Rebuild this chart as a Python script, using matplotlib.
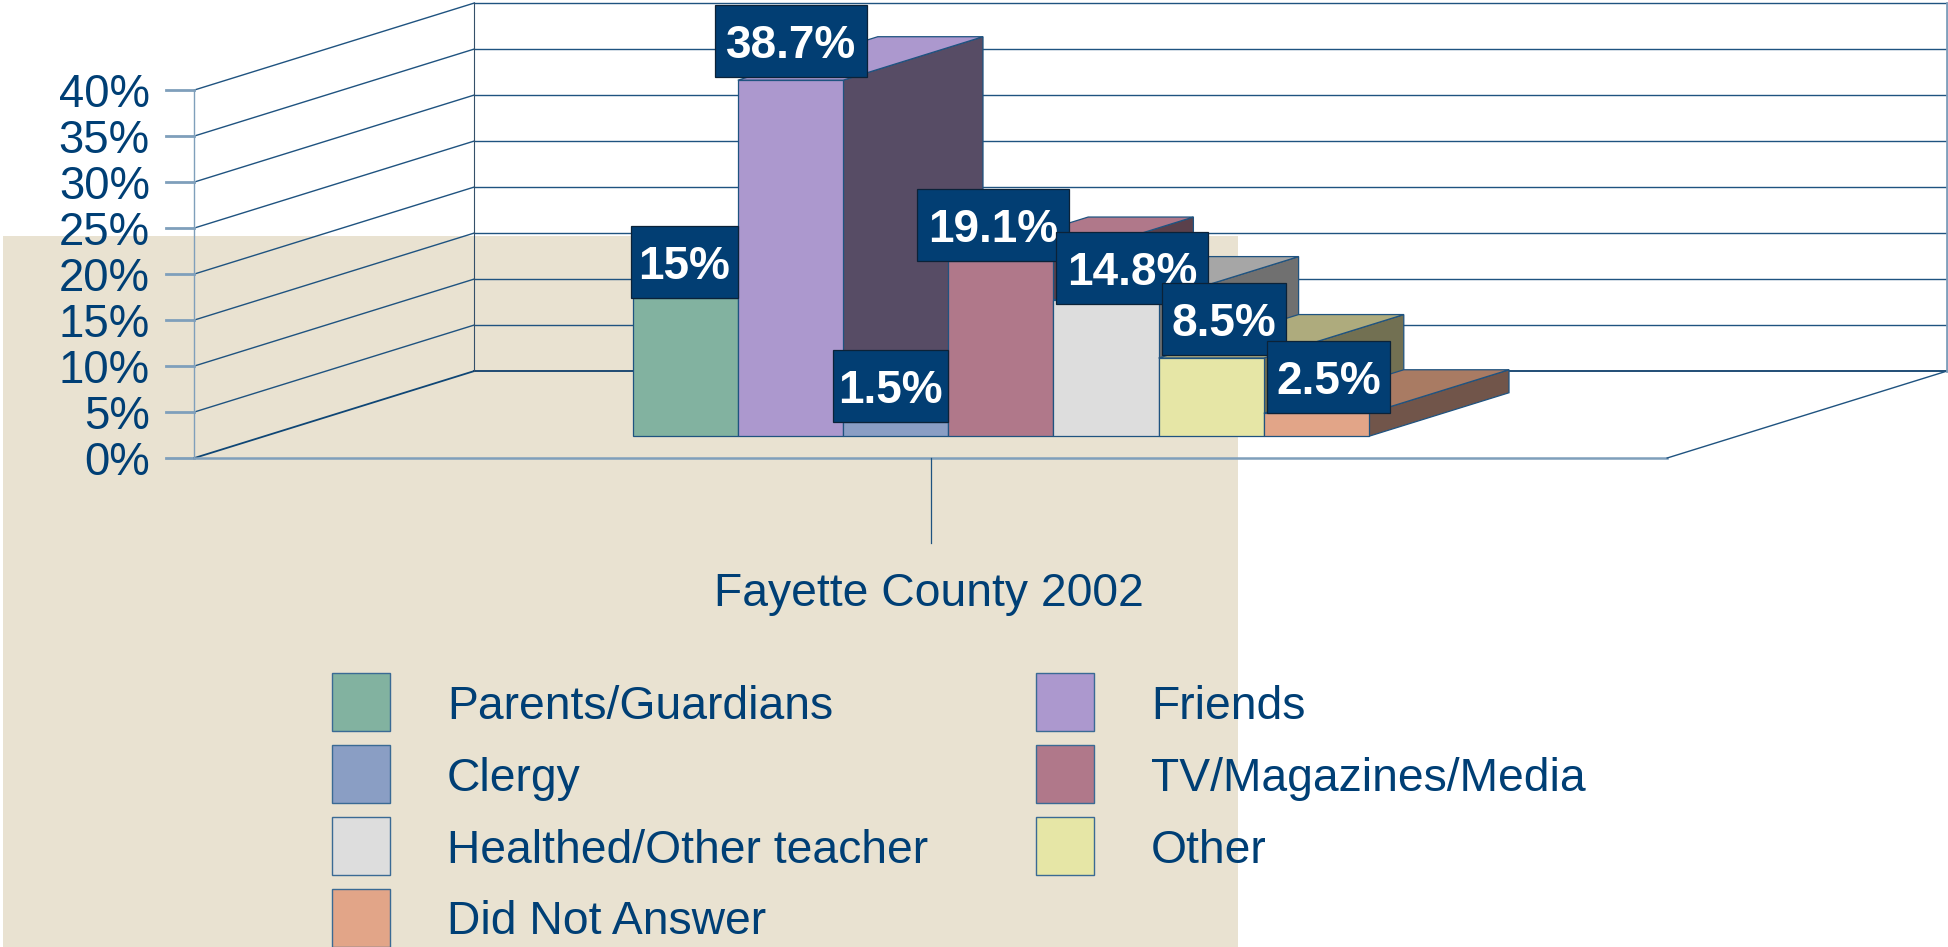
import matplotlib
matplotlib.use("Agg")
import matplotlib.pyplot as plt
from matplotlib.patches import Polygon, Rectangle
from matplotlib.transforms import Affine2D

plt.rcParams['font.family'] = ['Liberation Sans', 'DejaVu Sans']

# Data
categories = ["Parents/Guardians", "Friends", "Clergy", "TV/Magazines/Media",
              "Healthed/Other teacher", "Other", "Did Not Answer"]
values = [15, 38.7, 1.5, 19.1, 14.8, 8.5, 2.5]
value_labels = ["15%", "38.7%", "1.5%", "19.1%", "14.8%", "8.5%", "2.5%"]
y_ticks = [0, 5, 10, 15, 20, 25, 30, 35, 40]
y_tick_labels = ["0%", "5%", "10%", "15%", "20%", "25%", "30%", "35%", "40%"]
series_name = "Fayette County 2002"

# Colours of each bar
front_colors = ["#82B2A0", "#AC98CE", "#8A9EC4", "#B0788A", "#DDDDDD", "#E6E6A6", "#E2A588"]
top_colors = ["#6F9888", "#AC98CE", "#75869F", "#B0788A", "#A6A6A6", "#AEAB7D", "#A97B63"]
side_colors = ["#4C6A5E", "#574C65", "#4A5468", "#5A404B", "#707070", "#727052", "#71554A"]

# Label box: centre shift, width and bottom shift, in pixels from the bar
box_dx = [-1, 1, -5, -8, 26, 13, 12]
box_w = [107, 152, 115, 152, 152, 124, 123]
box_dy = [0, -3, 0, 0, 4, -3, 0]

TEXT = "#003F75"
BOX = "#023E73"
LINE = "#1F5380"
LIGHT = "#7F9FBB"
W, H = 1949, 947
UX, UY = 105.2, 9.2      # pixels for one bar width, for one percent
X0, Y0 = 562.6, 458      # pixel of category 0, of 0%
DX, DY = 280 / UX, 87 / UY   # full floor depth in data units
XL, XR = -3.5, 10.5      # extent of the category axis

fig = plt.figure(figsize=(W / 100, H / 100), dpi=100, facecolor="white")
ax = fig.add_axes([0, 0, 1, 1])
ax.set_xlim(-X0 / UX, (W - X0) / UX)
ax.set_ylim((Y0 - H) / UY, Y0 / UY)
ax.axis("off")

# pixels, y going down
px = Affine2D().scale(1, -1).translate(0, H)


def pr(x, v, d=0.0):
    return (x + d * DX, v + d * DY)


# Background panel
ax.add_patch(Rectangle((3, 236), 1235, 711, transform=px, fc="#E9E2D1", ec="none", zorder=0))

# Walls and grid
for t in y_ticks[1:]:
    ax.plot(*zip(pr(XL, t), pr(XL, t, 1)), color=LINE, lw=1.0, zorder=1)
    ax.plot(*zip(pr(XL, t, 1), pr(XR, t, 1)), color=LINE, lw=1.0, zorder=1)
for t in y_ticks:
    ax.plot(*zip(pr(XL - 28.5 / UX, t), pr(XL, t)), color=LIGHT, lw=2, zorder=1)
    ax.text(XL - 44.5 / UX, t - 17 / UY, y_tick_labels[t // 5], color=TEXT, fontsize=32.8,
            ha="right", va="baseline", zorder=1)
ax.plot(*zip(pr(XL, 0), pr(XL, 0, 1)), color="#0F4675", lw=1.3, zorder=1)
ax.plot(*zip(pr(XL, 0, 1), pr(XR, 0, 1)), color="#0F3F6B", lw=1.3, zorder=1)
ax.plot(*zip(pr(XL, 0), pr(XR, 0)), color=LIGHT, lw=1.8, zorder=1)
ax.plot(*zip(pr(XR, 0), pr(XR, 0, 1)), color=LINE, lw=1.0, zorder=1)
ax.plot(*zip(pr(XL, 0), pr(XL, 40)), color=LIGHT, lw=1.0, zorder=1)
ax.plot(*zip(pr(XL, 0, 1), pr(XL, 40, 1)), color="#34506A", lw=0.8, zorder=1)
ax.plot(*zip(pr(XR, 0, 1), pr(XR, 40, 1)), color=LIGHT, lw=2, zorder=1)

# Category tick and name
cx = (XL + XR) / 2
ax.plot([cx, cx], [0, -85 / UY], color=LINE, lw=0.9, zorder=1)
ax.text(cx - 1.5 / UX, (Y0 - 606) / UY, series_name, color=TEXT, fontsize=33.3,
        ha="center", va="baseline", zorder=1)

# Bars, left to right so each one covers the side of the previous one
d0, d1 = 0.25, 0.75
for i, v in enumerate(values):
    a, b = float(i), float(i + 1)
    side = [pr(b, 0, d0), pr(b, 0, d1), pr(b, v, d1), pr(b, v, d0)]
    top = [pr(a, v, d0), pr(a, v, d1), pr(b, v, d1), pr(b, v, d0)]
    front = [pr(a, 0, d0), pr(b, 0, d0), pr(b, v, d0), pr(a, v, d0)]
    z = 2 + i * 0.1
    ax.add_patch(Polygon(side, fc=side_colors[i], ec=LINE, lw=0.9, zorder=z))
    ax.add_patch(Polygon(top, fc=top_colors[i], ec=LINE, lw=0.9, zorder=z))
    ax.add_patch(Polygon(front, fc=front_colors[i], ec=LINE, lw=0.9, zorder=z))

# Value labels
for i, v in enumerate(values):
    xc, yb = pr(i + 0.5, v, d0)
    xc += box_dx[i] / UX
    yb -= box_dy[i] / UY
    w, h = box_w[i] / UX, 72 / UY
    ax.add_patch(Rectangle((xc - w / 2, yb), w, h, fc=BOX, ec="#0B2238", lw=0.9, zorder=3 + i * 0.1))
    ax.text(xc, yb + 19 / UY, value_labels[i], color="white", fontsize=33, fontweight="bold",
            ha="center", va="baseline", zorder=3.05 + i * 0.1)

# Legend
col_x = [332, 1036]
row_y = [673, 745, 817, 889]
base_y = [719, 791, 863, 934]
for i, name in enumerate(categories):
    c, r = i % 2, i // 2
    ax.add_patch(Rectangle((col_x[c], row_y[r]), 58, 58, transform=px, fc=front_colors[i],
                           ec="#3A6A94", lw=1.0, zorder=1))
    ax.text(col_x[c] + 115, base_y[r], name, transform=px, color=TEXT, fontsize=33.3,
            ha="left", va="baseline", zorder=1)

plt.savefig("out.png", dpi=100)
